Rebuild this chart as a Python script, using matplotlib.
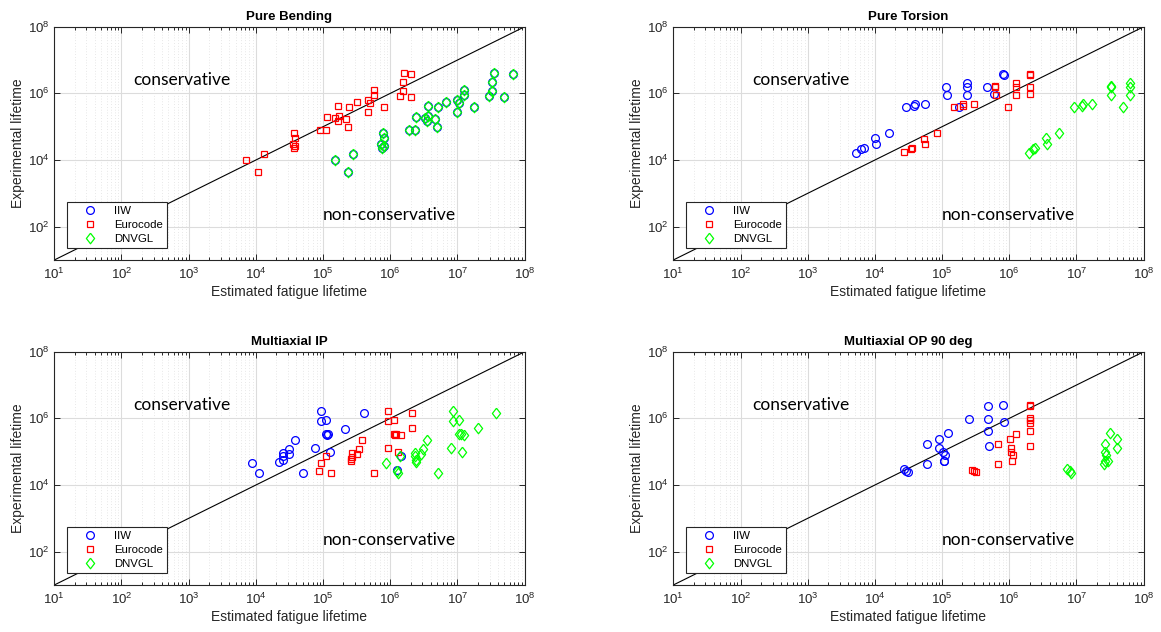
import matplotlib
matplotlib.use("Agg")
import matplotlib.pyplot as plt
from matplotlib.ticker import LogLocator, NullLocator, NullFormatter

plt.rcParams['font.family'] = ['Liberation Sans', 'DejaVu Sans']
plt.rcParams['mathtext.fontset'] = 'custom'
plt.rcParams['mathtext.rm'] = 'Liberation Sans'
plt.rcParams['mathtext.it'] = 'Liberation Sans'

# ---------------- data: (estimated lifetime, experimental lifetime) ----------------
# Pure bending
bend_iiw_est = [1.51e5, 2.32e5, 2.79e5, 7.8e5, 8.1e5, 7.2e5, 8.1e5, 7.6e5, 1.9e6, 2.32e6,
                2.45e6, 3.3e6, 3.5e6, 3.63e6, 3.63e6, 4.6e6, 4.95e6, 5.1e6, 6.8e6, 9.8e6,
                1.05e7, 9.8e6, 1.23e7, 1.23e7, 1.74e7, 2.95e7, 3.3e7, 3.3e7, 3.5e7, 6.6e7, 5.0e7]
bend_iiw_exp = [1.0e4, 4.5e3, 1.48e4, 6.3e4, 4.5e4, 3.0e4, 2.6e4, 2.34e4, 7.8e4, 7.8e4,
                2.0e5, 1.82e5, 1.48e5, 2.14e5, 4.3e5, 1.66e5, 1.0e5, 3.8e5, 5.5e5, 6.2e5,
                5.2e5, 2.7e5, 1.26e6, 9.1e5, 4.0e5, 8.1e5, 1.17e6, 2.14e6, 4.0e6, 3.8e6, 7.6e5]
bend_euro_est = [7.2e3, 1.08e4, 1.32e4, 3.67e4, 3.76e4, 3.55e4, 3.85e4, 3.63e4, 9.0e4, 1.10e5,
                 1.16e5, 1.51e5, 1.64e5, 1.70e5, 1.64e5, 2.16e5, 2.34e5, 2.43e5, 3.2e5, 4.6e5,
                 5.0e5, 4.7e5, 5.75e5, 5.75e5, 8.1e5, 1.40e6, 1.55e6, 1.55e6, 1.62e6, 2.04e6, 2.04e6]
bend_euro_exp = [1.0e4, 4.5e3, 1.48e4, 6.3e4, 4.5e4, 3.0e4, 2.6e4, 2.34e4, 7.8e4, 7.8e4,
                 2.0e5, 1.82e5, 1.48e5, 2.14e5, 4.3e5, 1.66e5, 1.0e5, 3.8e5, 5.5e5, 6.2e5,
                 5.2e5, 2.7e5, 1.26e6, 9.1e5, 4.0e5, 8.1e5, 1.17e6, 2.14e6, 4.0e6, 3.8e6, 7.6e5]
bend_dnv_est = [1.51e5, 2.32e5, 2.79e5, 7.8e5, 8.1e5, 7.2e5, 8.1e5, 7.6e5, 1.9e6, 2.32e6,
                2.45e6, 3.3e6, 3.5e6, 3.63e6, 3.63e6, 4.6e6, 4.95e6, 5.1e6, 6.8e6, 9.8e6,
                1.05e7, 9.8e6, 1.23e7, 1.23e7, 1.74e7, 2.95e7, 3.3e7, 3.3e7, 3.5e7, 6.6e7, 5.0e7]
bend_dnv_exp = [1.0e4, 4.5e3, 1.48e4, 6.3e4, 4.5e4, 3.0e4, 2.6e4, 2.34e4, 7.8e4, 7.8e4,
                2.0e5, 1.82e5, 1.48e5, 2.14e5, 4.3e5, 1.66e5, 1.0e5, 3.8e5, 5.5e5, 6.2e5,
                5.2e5, 2.7e5, 1.26e6, 9.1e5, 4.0e5, 8.1e5, 1.17e6, 2.14e6, 4.0e6, 3.8e6, 7.6e5]

# Pure torsion
tors_iiw_est = [5.25e3, 6.3e3, 6.8e3, 1.01e4, 1.05e4, 1.62e4, 2.9e4, 3.8e4, 3.9e4, 5.6e4,
                1.15e5, 1.17e5, 1.78e5, 2.34e5, 2.34e5, 2.34e5, 4.7e5, 6.0e5, 8.1e5, 8.3e5]
tors_iiw_exp = [1.66e4, 2.1e4, 2.24e4, 4.5e4, 3.0e4, 6.3e4, 4.0e5, 4.2e5, 4.8e5, 4.9e5,
                1.58e6, 8.7e5, 3.8e5, 2.1e6, 1.58e6, 8.7e5, 1.51e6, 9.5e5, 3.7e6, 3.55e6]
tors_euro_est = [2.75e4, 3.4e4, 3.6e4, 5.4e4, 5.6e4, 8.5e4, 1.51e5, 2.04e5, 2.04e5, 2.95e5,
                 6.2e5, 6.2e5, 6.3e5, 9.5e5, 1.26e6, 1.26e6, 1.26e6, 2.0e6, 2.0e6, 2.0e6, 2.0e6]
tors_euro_exp = [1.7e4, 2.14e4, 2.24e4, 4.4e4, 2.95e4, 6.3e4, 4.0e5, 4.2e5, 4.8e5, 4.9e5,
                 1.58e6, 1.62e6, 8.7e5, 3.8e5, 2.1e6, 1.58e6, 8.7e5, 1.51e6, 9.5e5, 3.7e6, 3.55e6]
tors_dnv_est = [1.95e6, 2.24e6, 2.45e6, 3.55e6, 3.63e6, 5.5e6, 9.3e6, 1.2e7, 1.23e7, 1.7e7,
                3.3e7, 3.3e7, 3.3e7, 4.9e7, 6.3e7, 6.3e7, 6.3e7]
tors_dnv_exp = [1.66e4, 2.1e4, 2.24e4, 4.5e4, 2.95e4, 6.3e4, 4.0e5, 4.2e5, 4.7e5, 4.9e5,
                1.58e6, 1.7e6, 8.7e5, 3.8e5, 2.1e6, 1.58e6, 8.7e5]

# Multiaxial in-phase
ip_iiw_est = [8.9e3, 1.12e4, 2.24e4, 2.57e4, 2.5e4, 2.54e4, 3.1e4, 3.1e4, 3.76e4, 4.95e4,
              7.7e4, 9.3e4, 9.2e4, 1.12e5, 1.10e5, 1.19e5, 1.15e5, 1.26e5, 2.1e5, 4.0e5,
              1.43e6, 1.26e6]
ip_iiw_exp = [4.6e4, 2.24e4, 4.8e4, 5.75e4, 7.4e4, 9.3e4, 8.5e4, 1.17e5, 2.3e5, 2.24e4,
              1.29e5, 1.66e6, 8.1e5, 8.7e5, 3.3e5, 3.3e5, 3.1e5, 9.5e4, 4.9e5, 1.48e6,
              7.6e4, 2.8e4]
ip_euro_est = [8.7e4, 9.3e4, 1.12e5, 1.32e5, 2.57e5, 2.63e5, 2.66e5, 2.66e5, 3.2e5, 3.4e5,
               3.85e5, 5.75e5, 9.1e5, 9.4e5, 9.3e5, 1.14e6, 1.12e6, 1.2e6, 1.16e6, 1.45e6,
               1.29e6, 2.07e6, 2.07e6]
ip_euro_exp = [2.7e4, 4.6e4, 7.4e4, 2.24e4, 5.1e4, 5.9e4, 7.1e4, 9.3e4, 8.5e4, 1.2e5,
               2.3e5, 2.24e4, 1.29e5, 1.66e6, 8.1e5, 8.7e5, 3.3e5, 3.3e5, 3.1e5, 3.2e5,
               9.5e4, 1.45e6, 5.0e5]
ip_dnv_est = [8.7e5, 1.26e6, 1.29e6, 1.41e6, 2.37e6, 2.37e6, 2.43e6, 2.45e6, 2.9e6, 3.1e6,
              3.55e6, 5.1e6, 8.0e6, 8.6e6, 8.5e6, 1.04e7, 1.06e7, 1.12e7, 1.26e7, 1.15e7,
              2.0e7, 3.8e7]
ip_dnv_exp = [4.6e4, 2.57e4, 2.24e4, 7.6e4, 9.1e4, 7.2e4, 5.75e4, 4.8e4, 8.5e4, 1.2e5,
              2.3e5, 2.24e4, 1.29e5, 1.66e6, 8.1e5, 8.7e5, 3.3e5, 3.3e5, 3.2e5, 9.5e4,
              5.0e5, 1.45e6]

# Multiaxial out-of-phase 90 deg
op_iiw_est = [2.7e4, 2.95e4, 3.16e4, 5.9e4, 5.9e4, 9.0e4, 9.0e4, 1.04e5, 1.12e5, 1.05e5,
              1.07e5, 1.22e5, 2.5e5, 4.9e5, 4.9e5, 4.9e5, 5.0e5, 8.1e5, 8.2e5]
op_iiw_exp = [3.0e4, 2.57e4, 2.4e4, 1.74e5, 4.2e4, 2.4e5, 1.32e5, 1.0e5, 7.9e4, 5.4e4,
              5.1e4, 3.55e5, 9.8e5, 2.34e6, 9.3e5, 4.1e5, 1.45e5, 2.45e6, 7.8e5]
op_euro_est = [2.8e5, 2.95e5, 3.2e5, 6.9e5, 6.9e5, 1.04e6, 1.06e6, 1.07e6, 1.14e6, 1.08e6,
               1.26e6, 2.0e6, 2.0e6, 2.0e6, 2.0e6, 2.0e6, 2.0e6, 2.0e6]
op_euro_exp = [2.9e4, 2.7e4, 2.4e4, 1.74e5, 4.3e4, 2.4e5, 1.32e5, 1.0e5, 8.1e4, 5.4e4,
               3.5e5, 2.5e6, 2.34e6, 1.0e6, 8.9e5, 7.4e5, 4.1e5, 1.45e5]
op_dnv_est = [7.3e6, 7.9e6, 8.4e6, 2.57e7, 2.63e7, 2.75e7, 2.63e7, 2.63e7, 3.1e7, 4.0e7,
              4.0e7, 2.9e7]
op_dnv_exp = [3.0e4, 2.7e4, 2.3e4, 4.3e4, 5.4e4, 8.1e4, 1.0e5, 1.74e5, 3.6e5, 2.4e5,
              1.26e5, 5.1e4]

titles = ["Pure Bending", "Pure Torsion", "Multiaxial IP", "Multiaxial OP 90 deg"]
series_names = ["IIW", "Eurocode", "DNVGL"]
panels = [
    [(bend_iiw_est, bend_iiw_exp), (bend_euro_est, bend_euro_exp), (bend_dnv_est, bend_dnv_exp)],
    [(tors_iiw_est, tors_iiw_exp), (tors_euro_est, tors_euro_exp), (tors_dnv_est, tors_dnv_exp)],
    [(ip_iiw_est, ip_iiw_exp), (ip_euro_est, ip_euro_exp), (ip_dnv_est, ip_dnv_exp)],
    [(op_iiw_est, op_iiw_exp), (op_euro_est, op_euro_exp), (op_dnv_est, op_dnv_exp)],
]
axis_limits = [1e1, 1e8]
x_ticks = [1e1, 1e2, 1e3, 1e4, 1e5, 1e6, 1e7, 1e8]
y_ticks = [1e2, 1e4, 1e6, 1e8]

# ---------------- styling ----------------
colors = ['#0000ff', '#ff0000', '#00ff00']
# slightly tall diamond outline
diamond = [(0, 1), (0.78, 0), (0, -1), (-0.78, 0), (0, 1)]
markers = ['o', 's', diamond]
msizes = [5.6, 5.0, 7.6]
axcol = '#262626'

W, H = 1161, 632
fig = plt.figure(figsize=(W / 100, H / 100), dpi=100)

# axes boxes in pixels: (left, top)
ax_w, ax_h = 470.4, 233.3
origins = [(54.3, 26.7), (673.3, 26.7), (54.3, 351.7), (673.3, 351.7)]

for k, (title, series) in enumerate(zip(titles, panels)):
    lx, ty = origins[k]
    ax = fig.add_axes([lx / W, 1 - (ty + ax_h) / H, ax_w / W, ax_h / H])
    ax.set_xscale('log')
    ax.set_yscale('log')
    ax.set_xlim(axis_limits)
    ax.set_ylim(axis_limits)

    ax.xaxis.set_minor_locator(LogLocator(base=10, subs=range(2, 10), numticks=100))
    ax.xaxis.set_minor_formatter(NullFormatter())
    ax.set_xticks(x_ticks)
    ax.set_yticks(y_ticks)
    ax.yaxis.set_minor_locator(NullLocator())

    ax.grid(True, which='major', color='#dcdcdc', linewidth=0.8, linestyle='-')
    ax.grid(True, which='minor', axis='x', color='#d2d2d2', linewidth=0.5, linestyle=(0, (1, 3)))
    ax.set_axisbelow(True)

    ax.tick_params(which='both', direction='in', top=True, right=True,
                   colors=axcol, labelcolor=axcol, labelsize=9.5, width=0.7)
    ax.tick_params(which='major', length=4)
    ax.tick_params(which='minor', length=2.5)
    ax.tick_params(axis='x', pad=5)
    for sp in ax.spines.values():
        sp.set_color(axcol)
        sp.set_linewidth(0.8)

    # line of equality
    ax.plot(axis_limits, axis_limits, color='black', linewidth=0.8, zorder=2)

    for (est, exp_), name, c, m, ms in zip(series, series_names, colors, markers, msizes):
        ax.plot(est, exp_, linestyle='none', marker=m, markersize=ms,
                markerfacecolor='none', markeredgecolor=c, markeredgewidth=0.9,
                label=name, zorder=3)

    ax.text(10 ** 2.9, 10 ** 6.4, "conservative", family=['Lato', 'DejaVu Sans'],
            fontsize=12.5, ha='center', va='center', color='black')
    ax.text(10 ** 5.98, 10 ** 2.36, "non-conservative", family=['Lato', 'DejaVu Sans'],
            fontsize=12.5, ha='center', va='center', color='black')

    ax.set_title(title, fontsize=9.5, fontweight='bold', pad=5, color='black')
    ax.set_xlabel("Estimated fatigue lifetime", fontsize=10, color=axcol, labelpad=2)
    ax.set_ylabel("Experimental lifetime", fontsize=10, color=axcol, labelpad=2)

    leg = ax.legend(loc='lower left', bbox_to_anchor=(0.026, 0.05), fontsize=8.2,
                    frameon=True, fancybox=False, edgecolor=axcol, framealpha=1,
                    handlelength=3.4, handletextpad=0.4, labelspacing=0.38,
                    borderpad=0.35, borderaxespad=0.0)
    leg.get_frame().set_linewidth(0.8)

fig.savefig("out.png", dpi=100)
